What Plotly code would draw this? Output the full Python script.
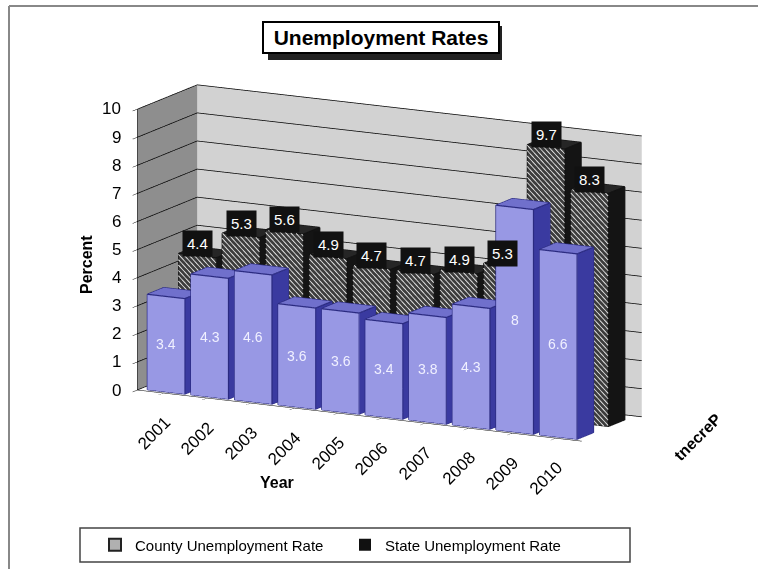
import math
import plotly.graph_objects as go

years = ["2001", "2002", "2003", "2004", "2005", "2006", "2007", "2008", "2009", "2010"]
county = [3.4, 4.3, 4.6, 3.6, 3.6, 3.4, 3.8, 4.3, 8.0, 6.6]
state = [4.4, 5.3, 5.6, 4.9, 4.7, 4.7, 4.9, 5.3, 9.7, 8.3]
z_ticks = list(range(0, 11))
series_names = ["County Unemployment Rate", "State Unemployment Rate"]

HW = 0.43           # half bar width (x units)
ROWS = [(0.1, 0.7), (1.25, 1.85)]  # depth extents of county / state rows
XR = [-0.6, 9.6]
YR = [0, 2.2]


def boxes(values, row, cols):
    y0, y1 = row
    X, Y, Z, I, J, K, FC = [], [], [], [], [], [], []
    front, right, top, other = cols
    for i, h in enumerate(values):
        x0, x1 = i - HW, i + HW
        b = len(X)
        pts = [(x0, y0, 0), (x1, y0, 0), (x1, y1, 0), (x0, y1, 0),
               (x0, y0, h), (x1, y0, h), (x1, y1, h), (x0, y1, h)]
        for p in pts:
            X.append(p[0]); Y.append(p[1]); Z.append(p[2])
        faces = [((0, 1, 5), front), ((0, 5, 4), front),
                 ((1, 2, 6), right), ((1, 6, 5), right),
                 ((4, 5, 6), top), ((4, 6, 7), top),
                 ((0, 3, 7), other), ((0, 7, 4), other),
                 ((3, 2, 6), other), ((3, 6, 7), other),
                 ((0, 1, 2), other), ((0, 2, 3), other)]
        for (a, c, d), col in faces:
            I.append(b + a); J.append(b + c); K.append(b + d); FC.append(col)
    return X, Y, Z, I, J, K, FC


def edges(values, row):
    y0, y1 = row
    ex, ey, ez = [], [], []
    for i, h in enumerate(values):
        x0, x1 = i - HW, i + HW
        path = [(x0, y0, 0), (x1, y0, 0), (x1, y0, h), (x0, y0, h), (x0, y0, 0)]
        path2 = [(x0, y0, h), (x0, y1, h), (x1, y1, h), (x1, y0, h)]
        path3 = [(x1, y0, 0), (x1, y1, 0), (x1, y1, h)]
        for pth in (path, path2, path3):
            for p in pth:
                ex.append(p[0]); ey.append(p[1]); ez.append(p[2])
            ex.append(None); ey.append(None); ez.append(None)
    return ex, ey, ez


def hatch(values, row, step=0.19, slope=1.5):
    y0 = row[0] - 0.01
    hx, hy, hz = [], [], []
    for i, h in enumerate(values):
        x0, x1 = i - HW, i + HW
        w = x1 - x0
        c = step
        while c < h + slope * w:
            xa = x0 + max(0.0, (c - h) / slope)
            xb = x0 + min(w, c / slope)
            if xb > xa:
                hx += [xa, xb, None]
                hy += [y0, y0, None]
                hz += [c - slope * (xa - x0), c - slope * (xb - x0), None]
            c += step
    return hx, hy, hz


fig = go.Figure()

light = dict(ambient=1.0, diffuse=0.0, specular=0.0, roughness=1.0, fresnel=0.0)

X, Y, Z, I, J, K, FC = boxes(state, ROWS[1], ("#3c3c3c", "#141414", "#262626", "#1e1e1e"))
fig.add_trace(go.Mesh3d(x=X, y=Y, z=Z, i=I, j=J, k=K, facecolor=FC, flatshading=True,
                        lighting=light, hoverinfo="skip", showlegend=False))
hx, hy, hz = hatch(state, ROWS[1])
fig.add_trace(go.Scatter3d(x=hx, y=hy, z=hz, mode="lines", line=dict(color="#e6e6e6", width=1.8),
                           hoverinfo="skip", showlegend=False))
ex, ey, ez = edges(state, ROWS[1])
fig.add_trace(go.Scatter3d(x=ex, y=ey, z=ez, mode="lines", line=dict(color="#111111", width=2.5),
                           hoverinfo="skip", showlegend=False))

X, Y, Z, I, J, K, FC = boxes(county, ROWS[0], ("#9898e4", "#3a3aa0", "#7070cc", "#5c5cc0"))
fig.add_trace(go.Mesh3d(x=X, y=Y, z=Z, i=I, j=J, k=K, facecolor=FC, flatshading=True,
                        lighting=light, hoverinfo="skip", showlegend=False))
ex, ey, ez = edges(county, ROWS[0])
fig.add_trace(go.Scatter3d(x=ex, y=ey, z=ez, mode="lines", line=dict(color="#2a2a80", width=2.5),
                           hoverinfo="skip", showlegend=False))

fig.add_trace(go.Scatter3d(x=[None], y=[None], z=[None], mode="markers", name=series_names[0],
                           marker=dict(symbol="square", size=8, color="#b0b0b0",
                                       line=dict(color="#222222", width=2))))
fig.add_trace(go.Scatter3d(x=[None], y=[None], z=[None], mode="markers", name=series_names[1],
                           marker=dict(symbol="square", size=8, color="#111111")))

annos = []
for i, v in enumerate(state):
    annos.append(dict(x=i, y=ROWS[1][0], z=v, text=f"{v:g}", showarrow=False, yshift=12,
                      font=dict(color="white", size=15, family="Arial"), bgcolor="#111111",
                      borderpad=4))
for i, v in enumerate(county):
    annos.append(dict(x=i, y=ROWS[0][0], z=v * 0.5, text=f"{v:g}", showarrow=False,
                      font=dict(color="#f0f0ff", size=14, family="Arial")))
for i, yr in enumerate(years):
    annos.append(dict(x=i, y=YR[0], z=0, text=yr, showarrow=False, textangle=-45,
                      xshift=-10, yshift=-40, font=dict(color="black", size=17, family="Arial")))
for t in z_ticks:
    annos.append(dict(x=XR[0], y=YR[0], z=t, text=str(t), showarrow=False, xanchor="right",
                      xshift=-14, font=dict(color="black", size=17, family="Arial")))

phi, theta, R = math.radians(28), math.radians(12.5), 2.0
eye = dict(x=R * math.sin(phi) * math.cos(theta), y=-R * math.cos(phi) * math.cos(theta),
           z=R * math.sin(theta))

fig.update_layout(
    width=758, height=569,
    margin=dict(l=0, r=0, t=0, b=0),
    paper_bgcolor="white",
    font=dict(family="Arial", color="black"),
    showlegend=True,
    legend=dict(orientation="h", x=95 / 758, y=1 - 545 / 569, xanchor="left", yanchor="middle",
                font=dict(size=15, family="Arial"), itemsizing="constant",
                entrywidth=205, entrywidthmode="pixels",
                bgcolor="rgba(0,0,0,0)", tracegroupgap=0),
    scene=dict(
        domain=dict(x=[0.09, 0.938], y=[0.13, 0.946]),
        xaxis=dict(range=XR, tickvals=list(range(10)), showticklabels=False,
                   showgrid=False, zeroline=False,
                   showbackground=True, backgroundcolor="#8e8e8e",
                   title=dict(text=""), ticklen=8,
                   showspikes=False, ticks="outside", tickcolor="black", linecolor="black",
                   showline=True),
        yaxis=dict(range=YR, showticklabels=False, showgrid=False, zeroline=False,
                   showbackground=True, backgroundcolor="#d2d2d2",
                   title=dict(text=""), showspikes=False),
        zaxis=dict(range=[0, 10], dtick=1, showticklabels=False,
                   showgrid=True, gridcolor="black", gridwidth=1.5, zeroline=False,
                   showbackground=True, backgroundcolor="white",
                   title=dict(text=""), ticklen=8,
                   showspikes=False, ticks="outside", tickcolor="black", linecolor="black",
                   showline=True),
        aspectmode="manual",
        aspectratio=dict(x=2.17, y=0.55, z=1.24),
        camera=dict(eye=eye, center=dict(x=0, y=0, z=0),
                    projection=dict(type="orthographic")),
        annotations=annos,
    ),
    shapes=[
        dict(type="line", xref="paper", yref="paper", x0=9 / 758, x1=1.01, y0=1 - 6 / 569, y1=1 - 6 / 569,
             line=dict(color="#888888", width=2)),
        dict(type="line", xref="paper", yref="paper", x0=9 / 758, x1=9 / 758, y0=-0.01, y1=1 - 6 / 569,
             line=dict(color="#888888", width=2)),
        dict(type="rect", xref="paper", yref="paper", x0=80 / 758, x1=630 / 758,
             y0=1 - 562 / 569, y1=1 - 528 / 569, line=dict(color="#444444", width=1.5)),
        dict(type="rect", xref="paper", yref="paper", x0=268 / 758, x1=502 / 758,
             y0=1 - 60 / 569, y1=1 - 26 / 569, fillcolor="#222222", line=dict(width=0)),
    ],
    annotations=[
        dict(text="<b>Unemployment Rates</b>", xref="paper", yref="paper", x=381 / 758, y=1 - 38 / 569,
             showarrow=False, font=dict(size=21, family="Arial", color="black"),
             bgcolor="white", bordercolor="black", borderwidth=2, borderpad=3,
             xanchor="center", yanchor="middle", width=228),
        dict(text="<b>Percent</b>", xref="paper", yref="paper", x=86 / 758, y=1 - 265 / 569,
             xanchor="center", yanchor="middle",
             showarrow=False, textangle=-90, font=dict(size=16, family="Arial")),
        dict(text="<b>Year</b>", xref="paper", yref="paper", x=277 / 758, y=1 - 482 / 569,
             xanchor="center", yanchor="middle",
             showarrow=False, font=dict(size=16, family="Arial")),
        dict(text="<b>tnecreP</b>", xref="paper", yref="paper", x=697 / 758, y=1 - 437 / 569,
             xanchor="center", yanchor="middle",
             showarrow=False, textangle=-45, font=dict(size=16, family="Arial")),
    ],
)

fig.write_html("out.html")
